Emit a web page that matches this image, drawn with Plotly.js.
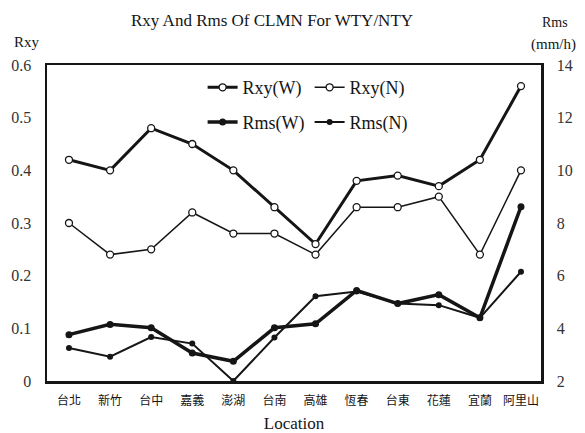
<!DOCTYPE html>
<html>
<head>
<meta charset="utf-8">
<script src="https://cdn.plot.ly/plotly-3.0.1.min.js"></script>
<style>html,body{margin:0;padding:0;background:#fff;}#chart{width:585px;height:433px;}</style>
</head>
<body>
<div id="chart"></div>
<script>
const locations = ["台北","新竹","台中","嘉義","澎湖","台南","高雄","恆春","台東","花蓮","宜蘭","阿里山"];
const rxyW = [0.42,0.40,0.48,0.45,0.40,0.33,0.26,0.38,0.39,0.37,0.42,0.56];
const rxyN = [0.30,0.24,0.25,0.32,0.28,0.28,0.24,0.33,0.33,0.35,0.24,0.40];
const rmsW = [3.76,4.15,4.02,3.06,2.75,4.02,4.17,5.44,4.94,5.28,4.40,8.62];
const rmsN = [3.25,2.92,3.67,3.42,2.00,3.65,5.22,5.40,4.94,4.88,4.40,6.15];
const leftTicks = [0,0.1,0.2,0.3,0.4,0.5,0.6];
const leftTickText = ["0","0.1","0.2","0.3","0.4","0.5","0.6"];
const rightTicks = [2,4,6,8,10,12,14];

const serif = "Liberation Serif, Times New Roman, serif";
const ink = "#151515";
const idx = locations.map((_, i) => i);

const traces = [
  {x: idx, y: rmsN, name: "Rms(N)", yaxis: "y2", mode: "lines+markers", legend: "legend2",
   line: {color: ink, width: 2}, marker: {symbol: "circle", size: 6, color: ink}},
  {x: idx, y: rmsW, name: "Rms(W)", yaxis: "y2", mode: "lines+markers", legend: "legend2",
   line: {color: ink, width: 3.5}, marker: {symbol: "circle", size: 7, color: ink}},
  {x: idx, y: rxyN, name: "Rxy(N)", mode: "lines+markers", legend: "legend",
   line: {color: ink, width: 1.5}, marker: {symbol: "circle", size: 7, color: "#fff", line: {color: ink, width: 1.3}}},
  {x: idx, y: rxyW, name: "Rxy(W)", mode: "lines+markers", legend: "legend",
   line: {color: ink, width: 3}, marker: {symbol: "circle", size: 7, color: "#fff", line: {color: ink, width: 1.3}}}
];

const legendCommon = {
  orientation: "h", xref: "paper", yref: "paper", x: 0.315, xanchor: "left", yanchor: "top",
  font: {family: serif, size: 18, color: ink}, bgcolor: "rgba(0,0,0,0)",
  entrywidth: 62, entrywidthmode: "pixels", traceorder: "reversed", itemwidth: 30
};

const layout = {
  width: 585, height: 433,
  margin: {l: 47, r: 44, t: 65, b: 52},
  paper_bgcolor: "#fff", plot_bgcolor: "#fff",
  font: {family: serif, color: ink},
  showlegend: true,
  title: {text: "Rxy And Rms Of CLMN For WTY/NTY", font: {family: serif, size: 17, color: ink},
          xref: "container", x: 0.465, xanchor: "center", yref: "container", y: 0.953, yanchor: "middle"},
  xaxis: {
    range: [-0.535, 11.487], tickmode: "array", tickvals: idx, ticktext: locations,
    showgrid: false, zeroline: false, showline: true, linewidth: 2.5, linecolor: ink, mirror: true,
    ticks: "", tickfont: {family: "Noto Sans CJK TC, Noto Sans CJK SC, sans-serif", size: 12, color: ink},
    ticklabelstandoff: 7,
    title: {text: "Location", font: {family: serif, size: 17, color: ink}, standoff: 11}
  },
  yaxis: {
    range: [0, 0.6], tickmode: "array", tickvals: leftTicks, ticktext: leftTickText,
    showgrid: false, zeroline: false, showline: true, linewidth: 2.5, linecolor: ink,
    ticks: "", tickfont: {family: serif, size: 16, color: "#333"}, ticklabelstandoff: 10
  },
  yaxis2: {
    range: [2, 14], overlaying: "y", side: "right", tickmode: "array", tickvals: rightTicks,
    showgrid: false, zeroline: false, showline: true, linewidth: 2.5, linecolor: ink,
    ticks: "", tickfont: {family: serif, size: 16, color: "#333"}, ticklabelstandoff: 10
  },
  legend: Object.assign({}, legendCommon, {y: 0.987}),
  legend2: Object.assign({}, legendCommon, {y: 0.877}),
  annotations: [
    {text: "Rxy", xref: "paper", yref: "paper", x: -0.071, y: 1.073, xanchor: "left", yanchor: "middle",
     showarrow: false, font: {family: serif, size: 15, color: ink}},
    {text: "Rms", xref: "paper", yref: "paper", x: 1.028, y: 1.136, xanchor: "center", yanchor: "middle",
     showarrow: false, font: {family: serif, size: 14, color: ink}},
    {text: "(mm/h)", xref: "paper", yref: "paper", x: 1.026, y: 1.066, xanchor: "center", yanchor: "middle",
     showarrow: false, font: {family: serif, size: 15, color: ink}}
  ]
};

Plotly.newPlot("chart", traces, layout, {displayModeBar: false, staticPlot: true});
</script>
</body>
</html>
